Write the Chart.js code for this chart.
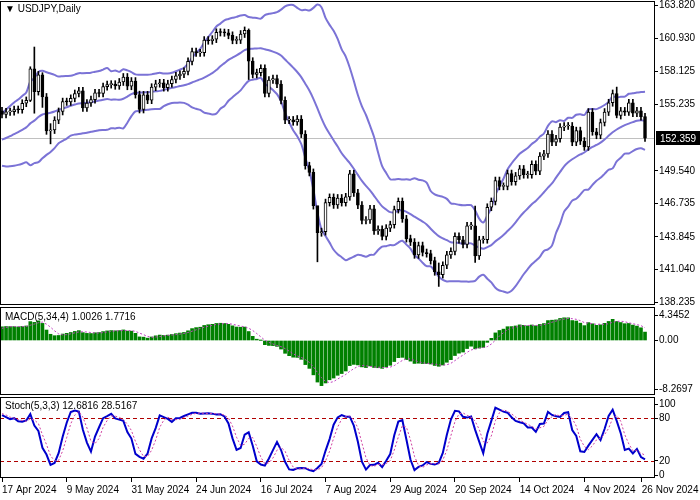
<!DOCTYPE html>
<html>
<head>
<meta charset="utf-8">
<script src="https://cdn.jsdelivr.net/npm/chart.js@4.4.1/dist/chart.umd.min.js"></script>
<style>
  body { margin: 0; background: #fff; width: 700px; height: 500px; overflow: hidden; }
  canvas { position: absolute; left: 0; }
</style>
</head>
<body>
<canvas id="main" width="700" height="306" style="top:0"></canvas>
<canvas id="macd" width="700" height="90" style="top:306px"></canvas>
<canvas id="stoch" width="700" height="104" style="top:396px"></canvas>
<script>
// USDJPY daily: closes before the visible window (only warm up the indicators)
const historyCloses = [150.0,150.0,150.3,150.5,150.5,150.7,150.5,150.7,150.0,
  150.1,150.5,150.0,149.4,147.9,147.0,146.9,147.7,147.8,148.3,149.0,149.1,150.9,151.3,151.6,151.4,151.4,151.5,151.3,151.4,151.4,
  151.6,151.6,151.6,151.3,151.6,151.8,151.8,153.2,153.3,153.2,154.2,154.7];

// visible bars, 17 Apr .. 26 Nov 2024
const closes = [
  154.40,154.62,154.64,154.82,154.80,155.36,155.60,158.32,156.36,157.80,
  155.90,152.98,153.05,153.90,154.65,155.50,155.47,155.78,156.20,156.42,154.95,155.38,155.67,156.26,156.20,156.79,156.96,157.00,156.86,157.19,157.62,156.82,157.27,
  156.10,154.82,156.08,155.62,156.74,157.04,157.12,156.70,157.04,157.40,157.72,157.86,158.10,158.96,159.80,159.69,159.71,160.80,160.74,160.88,
  161.47,161.45,161.42,161.21,160.78,160.80,161.32,161.63,158.98,157.84,158.00,158.37,156.20,157.36,157.48,157.00,155.60,153.90,153.92,153.76,154.00,152.70,149.98,
  149.40,146.54,144.20,144.30,146.80,147.25,146.60,147.20,146.80,147.30,149.28,147.64,146.58,145.26,145.30,146.26,144.36,144.50,143.88,144.60,144.90,146.20,
  146.90,145.40,143.70,143.40,142.30,143.10,142.50,142.40,141.80,140.84,140.60,141.40,142.30,142.60,143.90,143.60,143.20,144.80,144.80,142.20,143.60,
  143.60,146.40,146.90,148.70,148.20,148.20,149.30,148.60,149.10,149.70,149.20,149.20,150.10,149.50,150.80,151.00,152.70,152.00,152.30,153.30,153.40,153.40,152.00,
  153.00,152.10,151.60,154.60,152.90,152.60,153.70,154.60,155.40,156.20,154.30,154.70,154.60,155.40,154.50,154.70,154.20,152.36
];
// bar index -> [high, low] where the wick stands well out of the body
const wickOverrides = { 7: [158.5, 155.5], 8: [160.2, 154.5], 10: [157.99, 155.0], 12: [153.6, 151.86],
  61: [161.76, 157.4], 78: [146.4, 141.7], 108: [141.6, 139.58], 152: [156.75, 154.1], 117: [146.5, 141.65] };

const priceTicks = [163.820, 160.930, 158.125, 155.235, 149.540, 146.735, 143.845, 141.040, 138.235];
const currentPrice = 152.359;
const dateLabels = ['17 Apr 2024','9 May 2024','31 May 2024','24 Jun 2024','16 Jul 2024','7 Aug 2024',
  '29 Aug 2024','20 Sep 2024','14 Oct 2024','4 Nov 2024','26 Nov 2024'];
const dateTickIdx = [0,16,32,48,64,80,96,112,128,144,158.2];
const stochLevels = [20, 80];

// ---- build OHLC from closes (open = previous close)
const all = historyCloses.concat(closes);
const H = historyCloses.length;
const opens = all.map((c, i) => i ? all[i - 1] : c);
const highs = all.map((c, i) => Math.max(c, opens[i]) + 0.3);
const lows = all.map((c, i) => Math.min(c, opens[i]) - 0.3);
Object.keys(wickOverrides).forEach(k => { highs[H + +k] = wickOverrides[k][0]; lows[H + +k] = wickOverrides[k][1]; });

// ---- indicators
function sma(arr, n, i) { let s = 0; for (let k = i - n + 1; k <= i; k++) s += arr[k]; return s / n; }
function ema(arr, n) { const a = 2 / (n + 1); const out = [arr[0]]; for (let i = 1; i < arr.length; i++) out.push(a * arr[i] + (1 - a) * out[i - 1]); return out; }
const bbMid = [], bbUp = [], bbLo = [];
for (let i = H; i < all.length; i++) {
  const m = sma(all, 20, i);
  let v = 0; for (let k = i - 19; k <= i; k++) v += (all[k] - m) ** 2;
  const sd = Math.sqrt(v / 20);
  bbMid.push({ x: i - H, y: m }); bbUp.push({ x: i - H, y: m + 2 * sd }); bbLo.push({ x: i - H, y: m - 2 * sd });
}
const e5 = ema(all, 5), e34 = ema(all, 34);
const macdLine = all.map((c, i) => e5[i] - e34[i]);
const macdBars = [], macdSig = [];
for (let i = H; i < all.length; i++) {
  macdBars.push({ x: i - H, y: macdLine[i] });
  macdSig.push({ x: i - H, y: sma(macdLine, 4, i) });
}
const rawK = all.map((c, i) => {
  if (i < 4) return 50;
  let hh = -Infinity, ll = Infinity;
  for (let k = i - 4; k <= i; k++) { hh = Math.max(hh, highs[k]); ll = Math.min(ll, lows[k]); }
  return hh > ll ? (c - ll) / (hh - ll) * 100 : 50;
});
const kMain = all.map((v, i) => i < 6 ? 50 : sma(rawK, 3, i));
const stMain = [], stSig = [];
for (let i = H; i < all.length; i++) {
  stMain.push({ x: i - H, y: kMain[i] });
  stSig.push({ x: i - H, y: sma(kMain, 3, i) });
}

const candleBody = [], candleWick = [], bodyFill = [];
for (let i = H; i < all.length; i++) {
  candleBody.push({ x: i - H, y: [opens[i], all[i]] });
  candleWick.push({ x: i - H, y: [lows[i], highs[i]] });
  bodyFill.push(all[i] >= opens[i] ? '#ffffff' : '#000000');
}

// ---- shared options
const X_MIN = -0.495, X_MAX = 161.47;
const font = { family: '"Liberation Sans", Arial, sans-serif', size: 10 };
const fontCss = '10px "Liberation Sans", Arial, sans-serif';
function xHidden() { return { type: 'linear', min: X_MIN, max: X_MAX, offset: false, display: false }; }
function rightAxis(min, max, tickVals, fmt) {
  return {
    position: 'right', min, max,
    afterFit: s => { s.width = 45; s.paddingTop = 0; s.paddingBottom = 0; },
    afterBuildTicks: s => { s.ticks = tickVals.map(v => ({ value: v })); },
    grid: { drawOnChartArea: false, drawTicks: true, tickLength: 3, color: '#000' },
    border: { display: false },
    ticks: { color: '#000', font, padding: 1, autoSkip: false, callback: fmt }
  };
}
const framePlugin = {
  id: 'frame',
  afterDraw(chart) {
    const { ctx, chartArea: a } = chart;
    ctx.save(); ctx.strokeStyle = '#000'; ctx.lineWidth = 1;
    ctx.strokeRect(a.left + 0.5, a.top + 0.5, a.right - a.left - 1, a.bottom - a.top - 1);
    const t = chart.options.plugins.frame.title;
    if (t) { ctx.fillStyle = '#000'; ctx.font = fontCss; ctx.textBaseline = 'top'; ctx.fillText(t, a.left + 5, a.top + 3 + (chart.options.plugins.frame.dy || 0)); }
    ctx.restore();
  }
};
const base = { responsive: false, animation: false, events: [], plugins: { legend: { display: false }, tooltip: { enabled: false } } };

// ---- price panel
const pricePlugin = {
  id: 'price',
  beforeDatasetsDraw(chart) {
    const { ctx, chartArea: a, scales: { y } } = chart;
    const py = Math.round(y.getPixelForValue(currentPrice)) + 0.5;
    ctx.save(); ctx.strokeStyle = '#c0c0c0'; ctx.lineWidth = 1;
    ctx.beginPath(); ctx.moveTo(a.left, py); ctx.lineTo(a.right, py); ctx.stroke(); ctx.restore();
  },
  afterDraw(chart) {
    const { ctx, chartArea: a, scales: { y } } = chart;
    const py = Math.round(y.getPixelForValue(currentPrice));
    ctx.save(); ctx.fillStyle = '#000'; ctx.fillRect(a.right + 1, py - 7, 44, 14);
    ctx.fillStyle = '#fff'; ctx.font = fontCss; ctx.textBaseline = 'middle';
    ctx.fillText(currentPrice.toFixed(3), a.right + 5, py + 1); ctx.restore();
  }
};
new Chart(document.getElementById('main'), {
  type: 'bar',
  data: { datasets: [
    { type: 'line', data: bbUp, borderColor: '#7b73d6', borderWidth: 2, pointRadius: 0, tension: 0.3, order: 3 },
    { type: 'line', data: bbMid, borderColor: '#7b73d6', borderWidth: 2, pointRadius: 0, tension: 0.3, order: 3 },
    { type: 'line', data: bbLo, borderColor: '#7b73d6', borderWidth: 2, pointRadius: 0, tension: 0.3, order: 3 },
    { data: candleWick, backgroundColor: '#000', barThickness: 1, grouped: false, order: 2 },
    { data: candleBody, backgroundColor: bodyFill, borderColor: '#000', borderWidth: 1, borderSkipped: false, barThickness: 3, minBarLength: 1, grouped: false, order: 1 }
  ] },
  options: Object.assign({}, base, {
    layout: { padding: { top: 1, bottom: 1, left: 0, right: 0 } },
    scales: { x: xHidden(), y: rightAxis(137.98, 164.165, priceTicks, v => v.toFixed(3)) },
    plugins: Object.assign({}, base.plugins, { frame: { title: '\u25BC USDJPY,Daily' } })
  }),
  plugins: [framePlugin, pricePlugin]
});

// ---- MACD panel
new Chart(document.getElementById('macd'), {
  type: 'bar',
  data: { datasets: [
    { type: 'line', data: macdSig, borderColor: '#c040c0', borderWidth: 1, borderDash: [2, 2], pointRadius: 0, order: 0 },
    { data: macdBars, backgroundColor: '#008000', barThickness: 3, grouped: false, order: 1 }
  ] },
  options: Object.assign({}, base, {
    layout: { padding: { top: 1, bottom: 1 } },
    scales: { x: xHidden(), y: rightAxis(-9.292, 5.709, [4.3452, 0, -8.2697], v => v === 0 ? '0.00' : String(v)) },
    plugins: Object.assign({}, base.plugins, { frame: { title: 'MACD(5,34,4) 1.0026 1.7716', dy: 2 } })
  }),
  plugins: [framePlugin]
});

// ---- Stochastic panel with the date axis
const levelPlugin = {
  id: 'levels',
  beforeDatasetsDraw(chart) {
    const { ctx, chartArea: a, scales: { y } } = chart;
    ctx.save(); ctx.strokeStyle = '#b00000'; ctx.setLineDash([4, 3]); ctx.lineWidth = 1;
    stochLevels.forEach(l => { const py = Math.round(y.getPixelForValue(l)) + 0.5; ctx.beginPath(); ctx.moveTo(a.left, py); ctx.lineTo(a.right, py); ctx.stroke(); });
    ctx.restore();
  }
};
new Chart(document.getElementById('stoch'), {
  type: 'line',
  data: { datasets: [
    { data: stSig, borderColor: '#d040a0', borderWidth: 1, borderDash: [2, 2], pointRadius: 0 },
    { data: stMain, borderColor: '#0000cc', borderWidth: 2, pointRadius: 0 }
  ] },
  options: Object.assign({}, base, {
    layout: { padding: { top: 1 } },
    scales: {
      x: {
        type: 'linear', min: X_MIN, max: X_MAX, offset: false, position: 'bottom',
        afterFit: s => { s.height = 22; s.paddingLeft = 0; s.paddingRight = 0; },
        afterBuildTicks: s => { s.ticks = dateTickIdx.map(v => ({ value: v })); },
        grid: { drawOnChartArea: false, drawTicks: true, tickLength: 4, color: '#000' },
        border: { display: false },
        ticks: { color: '#000', font, align: 'start', maxRotation: 0, autoSkip: false, padding: 2,
          callback: v => dateLabels[dateTickIdx.indexOf(v)] }
      },
      y: rightAxis(-4.2, 109.9, [100, 80, 20, 0], v => String(v))
    },
    plugins: Object.assign({}, base.plugins, { frame: { title: 'Stoch(5,3,3) 12.6816 28.5167', dy: 1 } })
  }),
  plugins: [framePlugin, levelPlugin]
});
</script>
</body>
</html>
